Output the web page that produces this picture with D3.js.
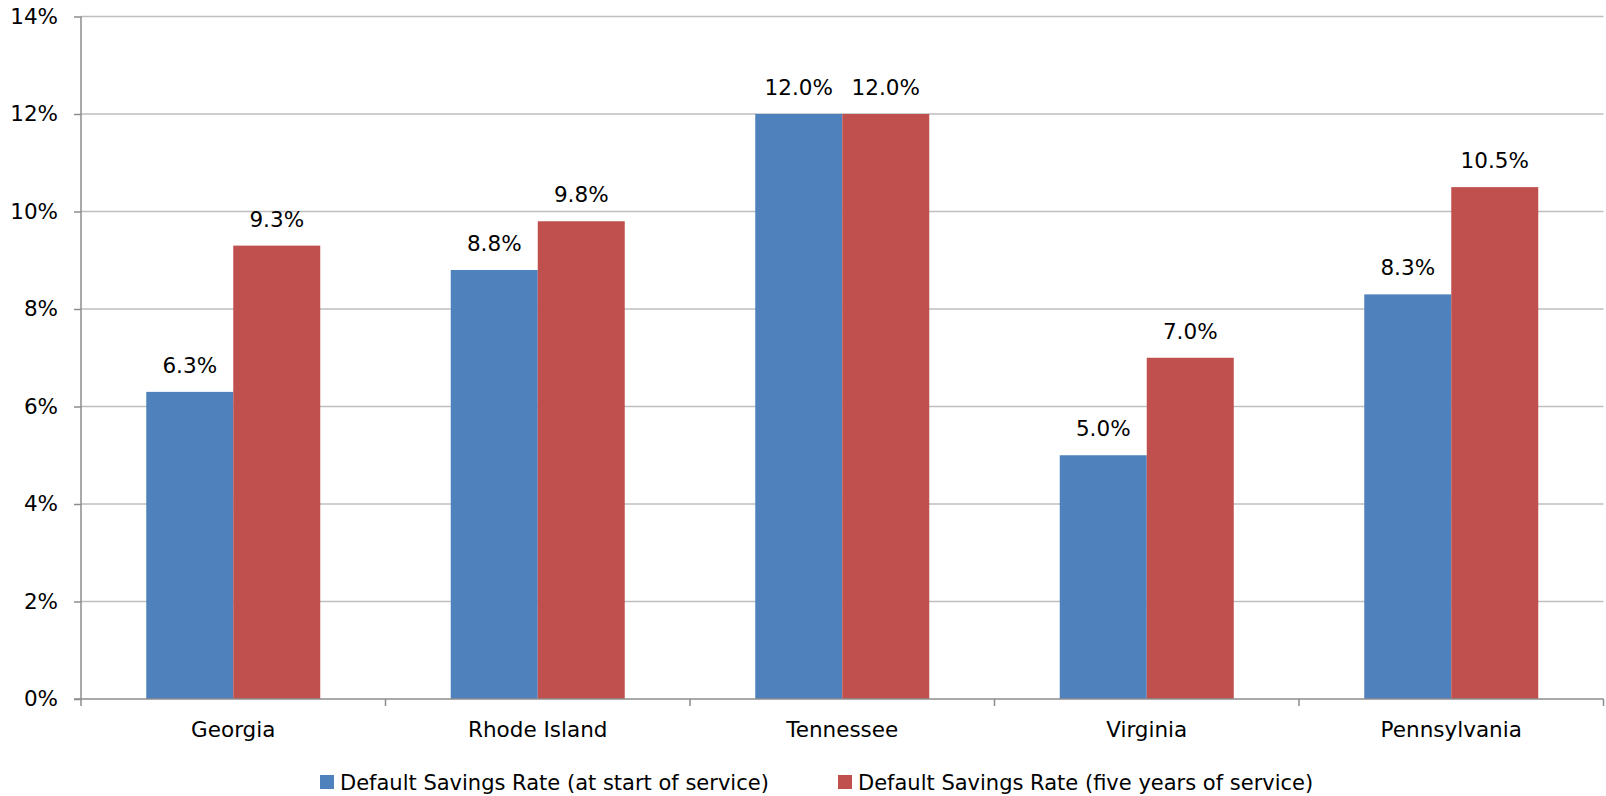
<!DOCTYPE html>
<html>
<head>
<meta charset="utf-8">
<script src="https://cdn.jsdelivr.net/npm/d3@7"></script>
<style>
  html, body { margin: 0; padding: 0; background: #fff; }
  svg { display: block; }
  text { font-family: "DejaVu Sans", sans-serif; fill: #000; }
</style>
</head>
<body>
<svg id="chart" width="1606" height="796"></svg>
<script>
// Default savings rates by state
const states = ["Georgia", "Rhode Island", "Tennessee", "Virginia", "Pennsylvania"];
const seriesNames = [
  "Default Savings Rate (at start of service)",
  "Default Savings Rate (five years of service)"
];
const startRates = [6.3, 8.8, 12.0, 5.0, 8.3];
const fiveYearRates = [9.3, 9.8, 12.0, 7.0, 10.5];
const yTicks = [0, 2, 4, 6, 8, 10, 12, 14];
const colors = ["#4F81BD", "#C0504D"];

const svg = d3.select("#chart");
const margin = { left: 81, right: 2.5, top: 16.5, bottom: 97 };
const W = 1606, H = 796;
const x0 = margin.left, x1 = W - margin.right;
const yTop = margin.top, yBot = H - margin.bottom;

const x = d3.scaleBand().domain(states).range([x0, x1]).paddingInner(0).paddingOuter(0);
// two bars per state, 75% gap width between neighbouring groups
const inner = d3.scaleBand().domain([0, 1]).range([0, x.bandwidth()])
  .paddingInner(0).paddingOuter(0.75);
const y = d3.scaleLinear().domain([0, 14]).range([yBot, yTop]);

// gridlines
svg.append("g")
  .selectAll("line")
  .data(yTicks.filter(d => d > 0))
  .join("line")
  .attr("x1", x0).attr("x2", x1)
  .attr("y1", d => y(d)).attr("y2", d => y(d))
  .attr("stroke", "#BEBEBE").attr("stroke-width", 1.5);

// bars
const data = states.map((s, i) => ({ state: s, values: [startRates[i], fiveYearRates[i]] }));
const groups = svg.append("g").selectAll("g")
  .data(data).join("g")
  .attr("transform", d => `translate(${x(d.state)},0)`);

groups.selectAll("rect")
  .data(d => d.values.map((v, k) => ({ v, k })))
  .join("rect")
  .attr("x", d => inner(d.k))
  .attr("width", inner.bandwidth())
  .attr("y", d => y(d.v))
  .attr("height", d => y(0) - y(d.v))
  .attr("fill", d => colors[d.k]);

groups.selectAll("text.val")
  .data(d => d.values.map((v, k) => ({ v, k })))
  .join("text")
  .attr("class", "val")
  .attr("x", d => inner(d.k) + inner.bandwidth() / 2)
  .attr("y", d => y(d.v) - 19)
  .attr("text-anchor", "middle")
  .style("font-size", "21.5px")
  .text(d => d3.format(".1f")(d.v) + "%");

// y axis
const yAxis = d3.axisLeft(y).tickValues(yTicks).tickFormat(d => d + "%").tickSize(7).tickPadding(16);
const gy = svg.append("g").attr("transform", `translate(${x0},0)`).call(yAxis);
gy.select(".domain").attr("stroke", "#8C8C8C").attr("stroke-width", 1.5).attr("d", `M0,${yTop}V${yBot}`);
gy.selectAll(".tick line").attr("stroke", "#8C8C8C").attr("stroke-width", 1.5);
gy.selectAll(".tick text").style("font-size", "21.5px").style("font-family", "'DejaVu Sans', sans-serif").attr("fill", "#000");

// x axis with boundary ticks
const gx = svg.append("g");
gx.append("line").attr("x1", x0 - 7).attr("x2", x1).attr("y1", yBot).attr("y2", yBot)
  .attr("stroke", "#8C8C8C").attr("stroke-width", 1.5);
const bounds = states.map(s => x(s)).concat([x1]);
gx.selectAll("line.tk").data(bounds).join("line").attr("class", "tk")
  .attr("x1", d => d).attr("x2", d => d).attr("y1", yBot).attr("y2", yBot + 7)
  .attr("stroke", "#8C8C8C").attr("stroke-width", 1.5);
gx.selectAll("text").data(states).join("text")
  .attr("x", d => x(d) + x.bandwidth() / 2)
  .attr("y", yBot + 38)
  .attr("text-anchor", "middle")
  .style("font-size", "21.5px")
  .text(d => d);

// legend
const legendX = [320, 838];
const lg = svg.append("g").selectAll("g").data(seriesNames).join("g")
  .attr("transform", (d, i) => `translate(${legendX[i]},782)`);
lg.append("rect").attr("x", 0).attr("y", -7).attr("width", 14).attr("height", 14)
  .attr("fill", (d, i) => colors[i]);
lg.append("text").attr("x", 20).attr("y", 7.5).style("font-size", "21px").text(d => d);
</script>
</body>
</html>
